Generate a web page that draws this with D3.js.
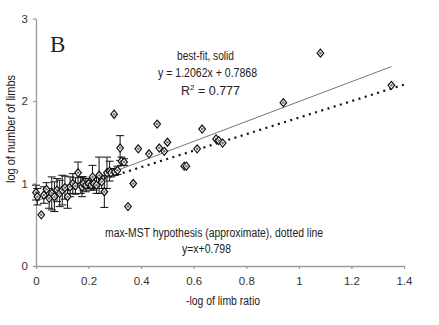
<!DOCTYPE html>
<html><head><meta charset="utf-8">
<script src="https://cdn.jsdelivr.net/npm/d3@7"></script>
<style>body{margin:0;background:#fff}svg{display:block}text{font-family:"Liberation Sans",Arial,sans-serif}</style>
</head><body><svg id="c" width="439" height="325"></svg>
<script>
// Points with error bars (species-level clusters)
const errX = [0.00,0.005,0.03,0.04,0.05,0.06,0.07,0.08,0.09,0.10,0.11,0.12,0.13,0.14,0.15,0.16,0.17,0.175,0.18,0.19,0.20,0.21,0.215,0.22,0.23,0.24,0.25,0.26,0.27,0.28,0.285,0.30,0.31,0.32,0.325,0.335];
const errY = [0.89,0.84,0.86,0.93,0.82,0.88,0.84,0.92,0.88,0.92,0.95,0.84,0.96,1.00,0.97,1.13,0.98,0.96,1.00,0.98,1.00,0.98,1.08,1.00,0.98,1.10,1.02,0.90,1.13,1.15,1.13,1.14,1.16,1.43,1.27,1.26];
const errE = [0.09,0.10,0.10,0.08,0.12,0.20,0.18,0.14,0.16,0.18,0.14,0.14,0.12,0.12,0.10,0.13,0.10,0.12,0.08,0.08,0.06,0.06,0.14,0.08,0.10,0.22,0.08,0.19,0.19,0.12,0.05,0.04,0.05,0.15,0.05,0.04];
// Points without error bars
const ptX = [0.02,0.297,0.35,0.37,0.389,0.43,0.461,0.469,0.488,0.50,0.564,0.572,0.613,0.632,0.685,0.695,0.71,0.941,1.082,1.352];
const ptY = [0.62,1.84,0.72,1.00,1.42,1.36,1.72,1.43,1.39,1.50,1.21,1.21,1.42,1.66,1.54,1.52,1.49,1.98,2.58,2.19];
// Lines
const fitSlope = 1.2062, fitIntercept = 0.7868, fitRange = [0, 1.352];
const mstSlope = 1, mstIntercept = 0.798, mstRange = [0, 1.405];
const xTicks = [0,0.2,0.4,0.6,0.8,1,1.2,1.4];
const xTickLabels = ["0","0.2","0.4","0.6","0.8","1","1.2","1.4"];
const yTicks = [0,1,2,3];

const svg = d3.select("#c");
const x = d3.scaleLinear().domain([0,1.4]).range([36,404]);
const y = d3.scaleLinear().domain([0,3]).range([266,18.5]);

// axes
const xa = svg.append("g").attr("transform","translate(0,266)")
  .call(d3.axisBottom(x).tickValues(xTicks).tickFormat((d,i)=>xTickLabels[i]).tickSize(3).tickPadding(8).tickSizeOuter(0));
const ya = svg.append("g").attr("transform","translate(36,0)")
  .call(d3.axisLeft(y).tickValues(yTicks).tickFormat(d3.format("d")).tickSize(3).tickPadding(5).tickSizeOuter(0));
[xa,ya].forEach(g=>{
  g.select(".domain").attr("stroke","#9a9a9a").attr("stroke-width",1.3);
  g.selectAll(".tick line").attr("stroke","#9a9a9a").attr("stroke-width",1.3);
  g.selectAll(".tick text").attr("fill","#333").style("font-size","11.5px").style("font-family","Liberation Sans, Arial, sans-serif");
});

// lines
const line = d3.line().x(d=>x(d[0])).y(d=>y(d[1]));
svg.append("path").datum(fitRange.map(v=>[v, fitSlope*v+fitIntercept]))
  .attr("d",line).attr("stroke","#777").attr("stroke-width",1).attr("fill","none");
svg.append("path").datum(mstRange.map(v=>[v, mstSlope*v+mstIntercept]))
  .attr("d",line).attr("stroke","#111").attr("stroke-width",2.2).attr("stroke-dasharray","2,4.5").attr("fill","none");

// error bars
const eg = svg.append("g").attr("stroke","#111").attr("stroke-width",1);
errX.forEach((xv,i)=>{
  const cx = x(xv), t = y(errY[i]+errE[i]), b = y(errY[i]-errE[i]);
  eg.append("line").attr("x1",cx).attr("x2",cx).attr("y1",t).attr("y2",b);
  eg.append("line").attr("x1",cx-4).attr("x2",cx+4).attr("y1",t).attr("y2",t);
  eg.append("line").attr("x1",cx-4).attr("x2",cx+4).attr("y1",b).attr("y2",b);
});

// markers
const dia = (cx,cy)=>`M${cx},${cy-4}L${cx+3.3},${cy}L${cx},${cy+4}L${cx-3.3},${cy}Z`;
const mg = svg.append("g");
const allX = errX.concat(ptX), allY = errY.concat(ptY);
allX.forEach((xv,i)=>{
  const cx = x(xv), cy = y(allY[i]);
  mg.append("path").attr("d",dia(cx,cy)).attr("fill","#fff").attr("stroke","#111").attr("stroke-width",1.2);
  mg.append("circle").attr("cx",cx).attr("cy",cy).attr("r",1.3).attr("fill","#777");
});

// labels
const txt = (s,xx,yy,size,len,anchor)=>{
  const t = svg.append("text").attr("x",xx).attr("y",yy).attr("fill","#222")
    .style("font-size",size+"px").attr("text-anchor",anchor||"start").text(s);
  if(len) t.attr("textLength",len).attr("lengthAdjust","spacingAndGlyphs");
  return t;
};
svg.append("text").attr("x",50).attr("y",52).text("B")
  .style("font-family","Liberation Serif, Times New Roman, serif").style("font-size","23px").attr("fill","#222");
txt("best-fit, solid",177,60,12.5,57);
txt("y = 1.2062x + 0.7868",158,77,12.5,99);
const r = svg.append("text").attr("x",181).attr("y",95).attr("fill","#222").style("font-size","12.5px");
r.append("tspan").text("R");
r.append("tspan").text("2").attr("dy",-5).style("font-size","8px");
r.append("tspan").text(" = 0.777").attr("dy",5);
txt("max-MST hypothesis (approximate), dotted line",105,237,12.5,218);
txt("y=x+0.798",182,253,12.5,49);
txt("-log of limb ratio",186,305,12.5,74);
svg.append("text").attr("transform","translate(15,129) rotate(-90)").attr("text-anchor","middle")
  .attr("fill","#222").style("font-size","12.5px").attr("textLength",108).attr("lengthAdjust","spacingAndGlyphs")
  .text("log of number of limbs");
</script></body></html>
